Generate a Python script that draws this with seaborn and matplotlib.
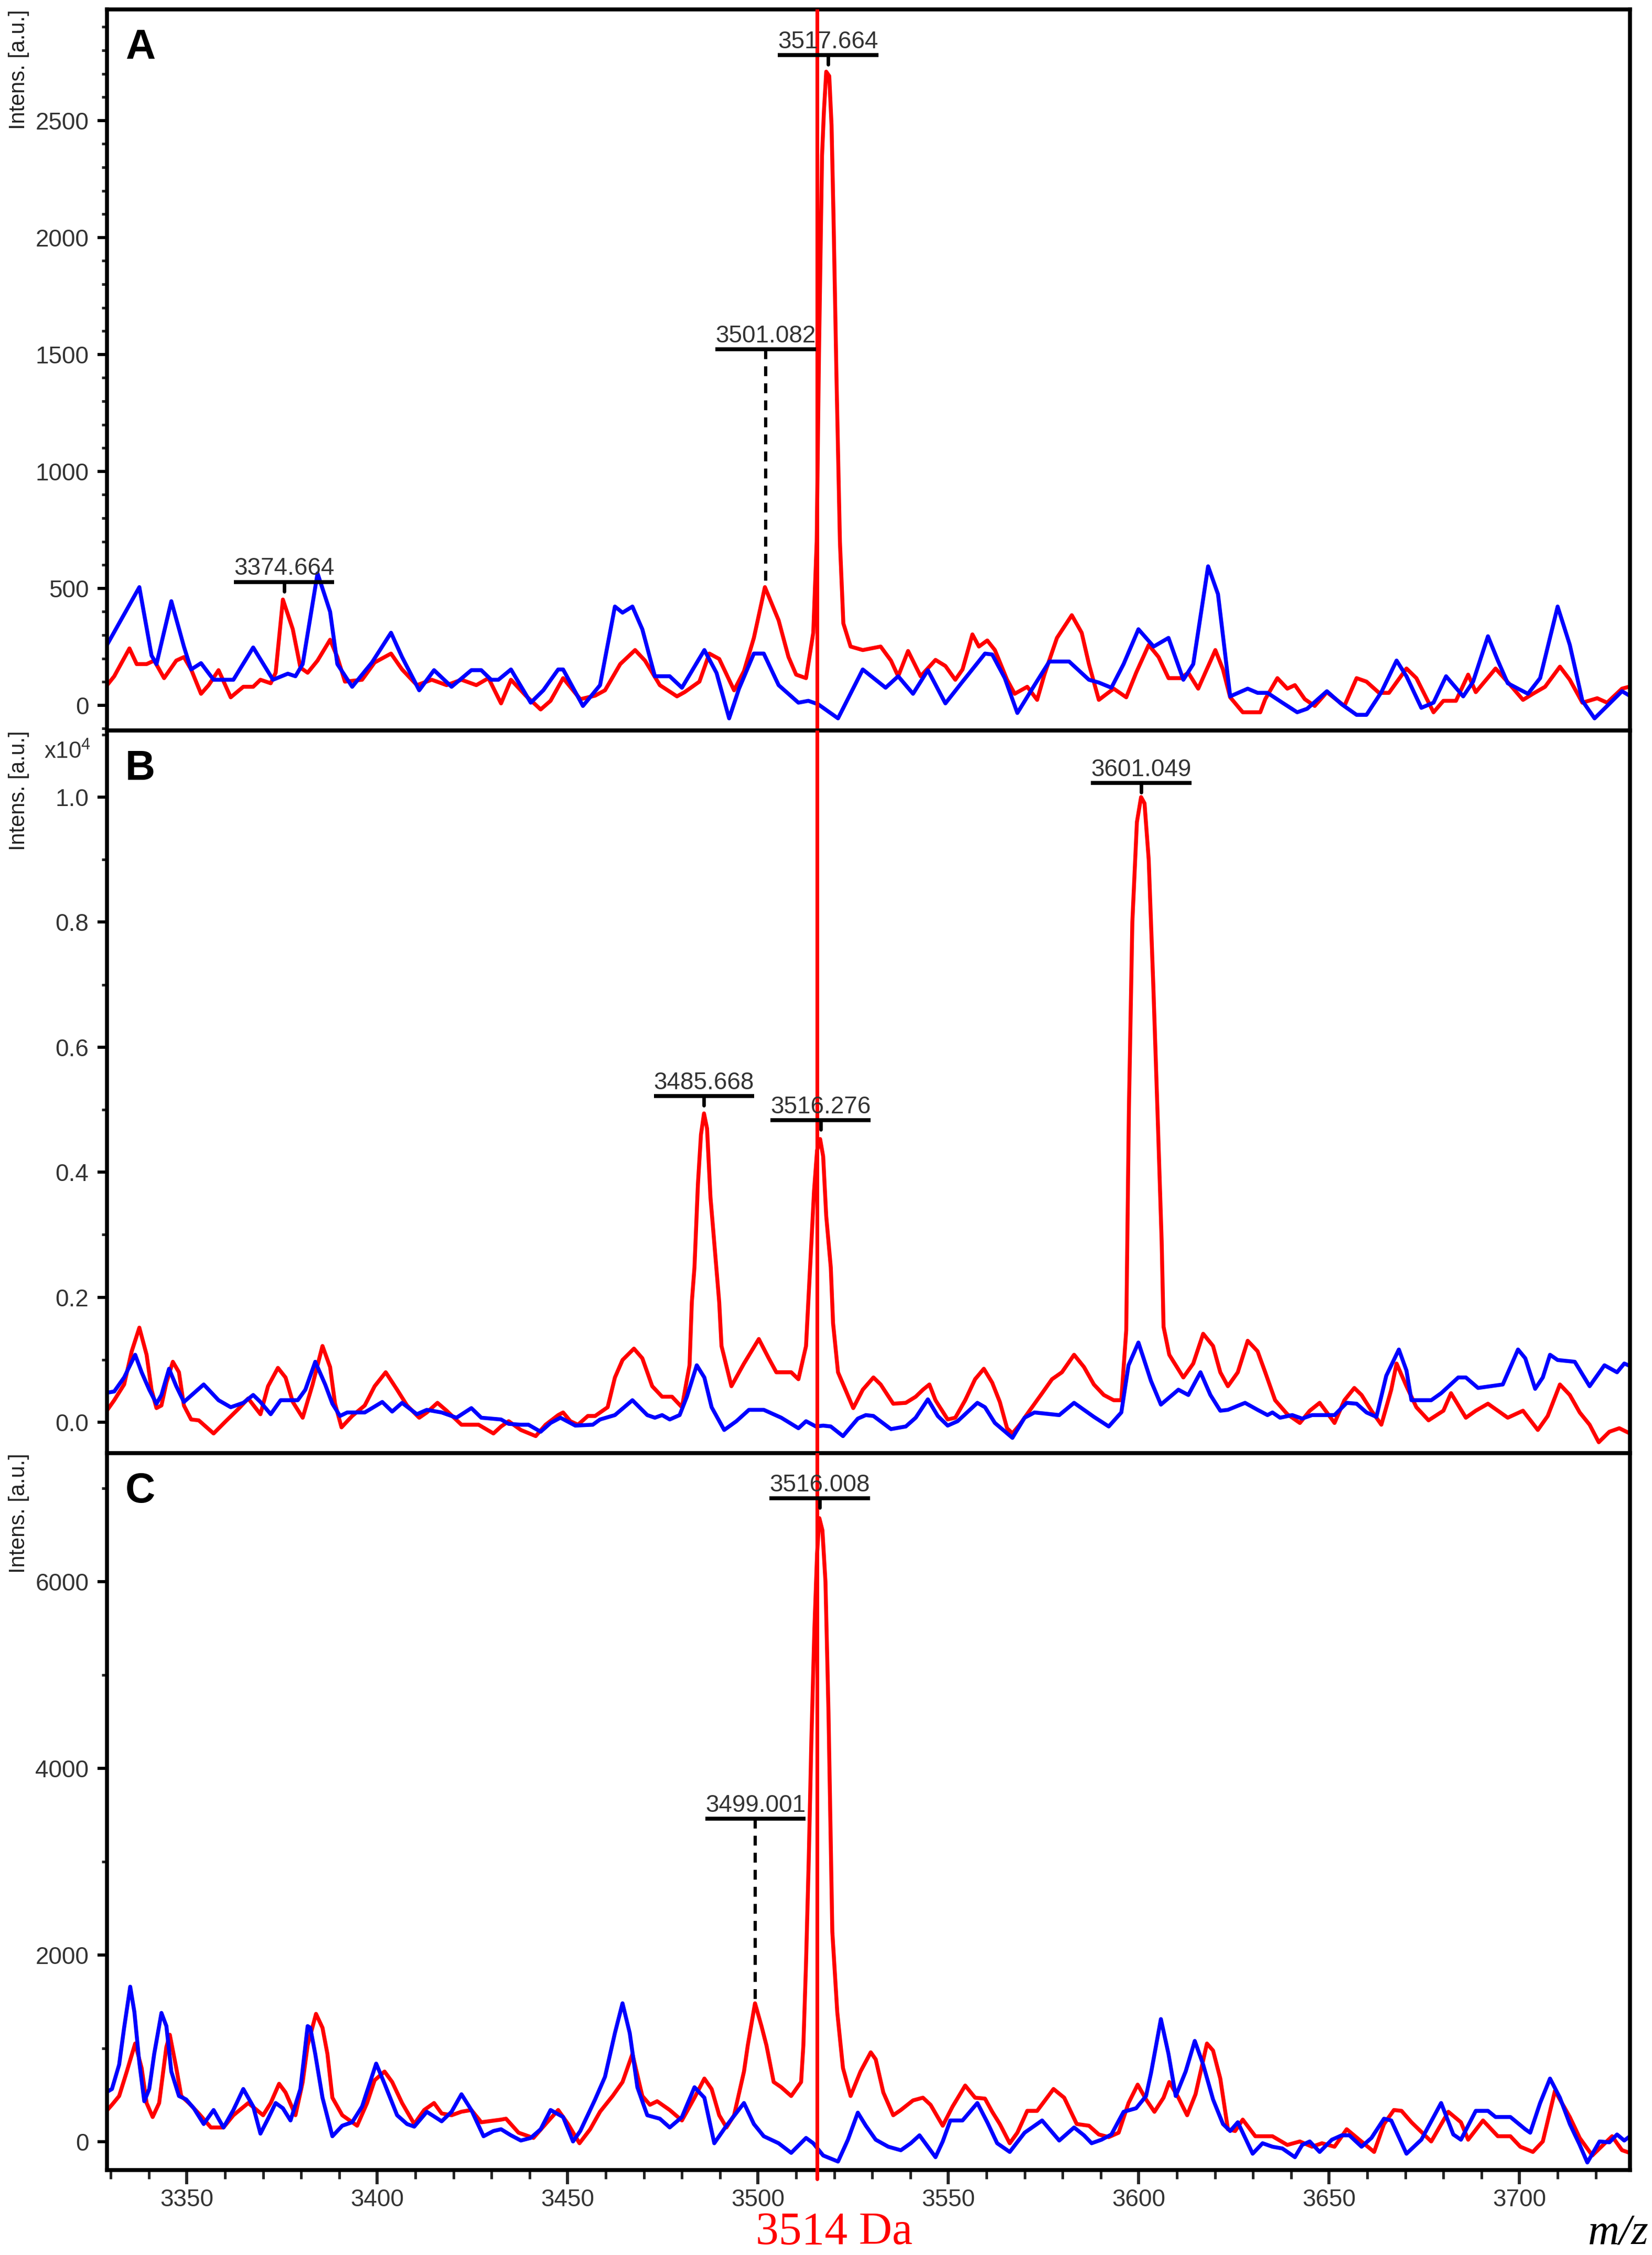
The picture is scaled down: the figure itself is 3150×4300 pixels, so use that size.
import matplotlib
matplotlib.use("Agg")
import matplotlib.pyplot as plt
from matplotlib.ticker import MultipleLocator, FuncFormatter
import seaborn as sns

# Style first, fonts after (set_style resets font.family)
sns.set_style("ticks")
plt.rcParams['font.family'] = ['Liberation Sans', 'DejaVu Sans']
plt.rcParams['mathtext.default'] = 'regular'

RED = '#ff0000'
BLUE = '#0000ff'
MARKER_MZ = 3515.5

# ---------------- Panel A ----------------
A_red_mz = [3328.3, 3330.9, 3334.9, 3336.8, 3339.4, 3341.4, 3344.0, 3347.2, 3349.2, 3351.1,
            3353.7, 3355.7, 3358.3, 3361.5, 3364.8, 3367.4, 3369.3, 3372.0, 3373.3, 3375.2,
            3377.8, 3379.8, 3381.7, 3384.3, 3387.6, 3389.5, 3391.5, 3396.0, 3399.3, 3403.6,
            3406.5, 3410.4, 3414.3, 3418.2, 3422.1, 3426.0, 3429.2, 3432.5, 3435.1, 3439.0,
            3442.9, 3445.5, 3448.8, 3453.3, 3457.2, 3459.8, 3463.8, 3467.7, 3470.3, 3474.2,
            3478.7, 3480.7, 3484.6, 3487.2, 3489.8, 3493.7, 3496.3, 3498.9, 3501.8, 3505.4,
            3508.0, 3510.0, 3512.6, 3514.5, 3515.4, 3516.0, 3516.8, 3517.3, 3517.9, 3518.7,
            3519.3, 3519.8, 3520.6, 3521.5, 3522.4, 3524.3, 3527.5, 3532.2, 3534.9, 3536.8,
            3539.4, 3542.7, 3546.6, 3549.2, 3551.8, 3553.7, 3556.3, 3558.0, 3560.2, 3562.2,
            3565.4, 3567.4, 3570.7, 3573.3, 3575.2, 3578.5, 3582.4, 3585.0, 3586.9, 3589.5,
            3593.4, 3596.7, 3599.3, 3602.6, 3605.2, 3607.8, 3611.0, 3613.0, 3615.6, 3620.1,
            3622.1, 3624.0, 3627.3, 3631.9, 3633.2, 3636.4, 3639.0, 3641.0, 3643.6, 3646.2,
            3649.4, 3654.0, 3657.2, 3659.8, 3663.1, 3665.7, 3670.3, 3672.9, 3677.4, 3680.0,
            3683.3, 3686.5, 3688.5, 3693.7, 3697.0, 3700.9, 3703.5, 3706.7, 3710.6, 3713.2,
            3716.5, 3720.4, 3723.0, 3726.9, 3729.0]
A_red_int = [71, 124, 243, 176, 176, 191, 116, 191, 206, 153,
             49, 86, 150, 34, 79, 79, 109, 94, 139, 452,
             325, 161, 139, 191, 280, 206, 101, 109, 183, 221,
             153, 86, 109, 86, 109, 86, 116, 8, 109, 41,
             -18, 19, 116, 26, 41, 64, 176, 236, 191, 86,
             38, 56, 101, 221, 198, 64, 146, 288, 505, 363,
             206, 131, 116, 310, 700, 1500, 2350, 2540, 2709, 2690,
             2480, 2100, 1400, 700, 350, 251, 236, 251, 191, 124,
             232, 124, 194, 168, 109, 153, 303, 251, 277, 236,
             109, 49, 79, 23, 131, 288, 385, 310, 176, 23,
             71, 34, 139, 258, 206, 116, 116, 139, 71, 236,
             153, 34, -30, -30, 26, 116, 71, 86, 26, -3,
             56, -3, 116, 101, 53, 53, 157, 116, -30, 19,
             19, 131, 56, 157, 97, 23, 49, 79, 165, 109,
             11, 30, 11, 71, 80]

A_blue_mz = [3329.0, 3337.5, 3340.7, 3342.0, 3345.9, 3349.2, 3351.1, 3353.7, 3357.0, 3362.2,
             3367.4, 3372.6, 3376.5, 3378.5, 3380.4, 3384.3, 3387.6, 3389.5, 3393.4, 3398.6,
             3403.6, 3406.5, 3411.0, 3414.9, 3419.5, 3424.7, 3427.3, 3429.9, 3431.8, 3435.1,
             3440.3, 3443.6, 3447.5, 3448.8, 3454.0, 3458.5, 3462.4, 3464.4, 3467.0, 3469.6,
             3472.9, 3476.8, 3480.0, 3485.9, 3489.1, 3492.4, 3495.0, 3498.9, 3501.5, 3505.4,
             3510.6, 3513.2, 3515.8, 3521.0, 3527.5, 3533.5, 3536.8, 3540.7, 3544.6, 3549.2,
             3553.7, 3559.6, 3561.5, 3564.8, 3568.1, 3572.6, 3576.5, 3581.7, 3586.9, 3589.5,
             3592.8, 3596.0, 3599.9, 3603.9, 3607.8, 3611.7, 3614.3, 3618.2, 3620.8, 3624.0,
             3628.6, 3631.2, 3633.8, 3637.7, 3641.6, 3644.2, 3649.4, 3653.3, 3657.2, 3659.8,
             3663.7, 3667.7, 3670.3, 3674.2, 3677.4, 3680.7, 3685.2, 3687.8, 3691.7, 3694.3,
             3696.9, 3702.2, 3705.4, 3710.0, 3713.2, 3716.5, 3719.7, 3723.0, 3726.9, 3729.0]
A_blue_int = [258, 505, 213, 176, 445, 251, 153, 180, 109, 109,
              247, 109, 135, 124, 176, 564, 400, 176, 79, 183,
              310, 206, 64, 150, 79, 150, 150, 109, 109, 153,
              11, 64, 153, 153, -3, 86, 422, 396, 422, 325,
              124, 124, 75, 236, 138, -56, 71, 221, 221, 86,
              11, 19, 4, -56, 153, 75, 124, 49, 150, 8,
              101, 221, 217, 116, -33, 86, 187, 187, 109, 97,
              75, 176, 325, 251, 288, 109, 176, 594, 475, 38,
              71, 53, 53, 11, -30, -15, 60, 4, -41, -41,
              56, 191, 124, -11, 11, 124, 38, 101, 295, 191,
              94, 49, 116, 422, 258, 19, -56, -3, 60, 40]

# ---------------- Panel B ----------------
B_red_mz = [3328.3, 3330.9, 3333.5, 3335.5, 3337.5, 3339.4, 3340.7, 3342.0, 3343.3, 3344.6,
            3346.3, 3347.9, 3349.2, 3351.1, 3353.1, 3357.0, 3360.2, 3363.5, 3366.1, 3369.3,
            3371.3, 3373.9, 3375.9, 3377.8, 3380.4, 3383.0, 3385.6, 3387.6, 3388.9, 3390.6,
            3393.4, 3396.7, 3399.3, 3402.2, 3405.2, 3407.8, 3411.0, 3413.0, 3415.8, 3418.2,
            3422.1, 3426.6, 3430.5, 3432.5, 3434.5, 3437.7, 3441.6, 3444.2, 3447.5, 3448.8,
            3450.7, 3452.7, 3455.3, 3457.2, 3460.5, 3462.4, 3464.4, 3467.4, 3469.6, 3472.2,
            3474.8, 3477.4, 3480.0, 3482.0, 3482.6, 3483.3, 3484.2, 3485.0, 3485.8, 3486.6,
            3487.5, 3488.5, 3489.8, 3490.4, 3493.0, 3496.3, 3500.2, 3502.8, 3504.8, 3508.7,
            3510.6, 3512.6, 3513.9, 3514.7, 3515.5, 3516.3, 3517.1, 3517.9, 3519.1, 3519.7,
            3521.0, 3525.0, 3527.5, 3530.3, 3532.2, 3535.5, 3538.8, 3541.4, 3543.3, 3545.0,
            3546.6, 3549.8, 3551.8, 3554.4, 3557.0, 3559.3, 3561.5, 3563.5, 3565.4, 3566.8,
            3568.7, 3571.3, 3574.6, 3577.2, 3579.8, 3583.0, 3585.6, 3588.2, 3590.8, 3593.4,
            3595.4, 3596.7, 3597.4, 3598.3, 3599.5, 3600.6, 3601.5, 3602.6, 3603.8, 3605.0,
            3606.0, 3606.2, 3606.5, 3608.0, 3611.7, 3614.3, 3616.9, 3619.5, 3621.4, 3623.4,
            3626.0, 3628.6, 3631.2, 3633.2, 3635.8, 3639.0, 3642.3, 3644.9, 3647.5, 3649.4,
            3651.4, 3654.0, 3656.6, 3658.5, 3661.1, 3663.7, 3666.3, 3667.7, 3670.3, 3672.9,
            3676.1, 3680.0, 3682.0, 3685.9, 3688.5, 3691.7, 3694.3, 3696.9, 3700.9, 3704.8,
            3707.4, 3710.6, 3713.2, 3715.8, 3718.4, 3720.8, 3723.6, 3726.2, 3729.0]
B_red_int = [128, 352, 604, 1135, 1513, 1079, 520, 226, 268, 632,
             967, 799, 268, 44, 30, -180, 16, 212, 380, 128,
             576, 869, 715, 324, 72, 604, 1219, 883, 296, -82,
             100, 268, 576, 799, 520, 268, 72, 156, 310, 184,
             -40, -40, -180, -68, 16, -124, -222, -40, 114, 156,
             16, -40, 100, 100, 240, 715, 995, 1177, 1023, 576,
             408, 408, 240, 911, 1918, 2478, 3800, 4600, 4940, 4700,
             3600, 2869, 1918, 1219, 576, 939, 1331, 1023, 799, 799,
             688, 1219, 2757, 3700, 4350, 4530, 4250, 3300, 2478, 1583,
             799, 226, 520, 716, 604, 296, 310, 408, 520, 604,
             352, 44, 72, 352, 688, 855, 632, 324, -96, -180,
             -40, 184, 464, 688, 799, 1079, 883, 604, 436, 352,
             352, 1471, 5000, 8000, 9600, 10000, 9900, 9000, 7000, 4800,
             2900, 2338, 1527, 1079, 716, 939, 1415, 1219, 799, 576,
             799, 1303, 1135, 799, 352, 128, -12, 184, 310, 156,
             -12, 352, 548, 436, 184, -40, 520, 939, 576, 240,
             30, 184, 464, 72, 184, 296, 184, 72, 184, -124,
             100, 604, 436, 156, -40, -320, -152, -96, -180]

B_blue_mz = [3328.3, 3330.9, 3333.5, 3336.4, 3338.1, 3340.1, 3342.0, 3343.3, 3345.3, 3347.2,
             3349.2, 3354.4, 3358.3, 3361.5, 3364.8, 3367.4, 3369.3, 3372.0, 3374.6, 3379.1,
             3381.1, 3383.7, 3386.3, 3388.2, 3390.2, 3392.1, 3396.7, 3401.3, 3403.9, 3406.5,
             3410.4, 3413.0, 3416.9, 3420.8, 3424.7, 3427.3, 3432.5, 3434.5, 3437.7, 3439.7,
             3442.9, 3445.5, 3448.1, 3452.0, 3456.6, 3458.5, 3462.4, 3467.0, 3470.9, 3472.9,
             3474.8, 3476.8, 3479.4, 3481.3, 3483.9, 3485.9, 3487.8, 3491.1, 3494.3, 3497.6,
             3501.5, 3506.1, 3510.6, 3512.6, 3515.2, 3517.1, 3519.1, 3522.3, 3526.2, 3528.3,
             3530.3, 3534.9, 3538.8, 3541.4, 3544.6, 3547.2, 3549.8, 3552.4, 3557.6, 3559.6,
             3562.2, 3566.8, 3570.0, 3572.6, 3579.1, 3583.0, 3588.2, 3592.1, 3595.4, 3597.3,
             3599.9, 3603.2, 3605.8, 3610.4, 3613.0, 3616.2, 3618.8, 3621.4, 3623.4, 3627.9,
             3631.2, 3633.8, 3635.1, 3637.1, 3640.3, 3642.9, 3645.5, 3651.4, 3654.6, 3657.2,
             3659.8, 3662.4, 3665.0, 3668.3, 3670.3, 3671.6, 3676.8, 3679.4, 3683.9, 3685.9,
             3689.1, 3695.6, 3699.6, 3701.5, 3704.1, 3706.1, 3708.0, 3710.0, 3714.5, 3718.4,
             3722.3, 3725.6, 3727.5, 3729.0]
B_blue_int = [464, 492, 716, 1079, 799, 520, 296, 436, 855, 576,
              324, 604, 352, 240, 310, 436, 324, 128, 352, 352,
              520, 967, 604, 296, 100, 156, 156, 324, 170, 310,
              128, 198, 156, 72, 226, 72, 44, -26, -40, -40,
              -152, -12, 72, -54, -40, 44, 114, 352, 114, 72,
              114, 44, 114, 408, 911, 715, 240, -124, 16, 198,
              198, 72, -96, 16, -68, -54, -68, -222, 58, 114,
              100, -110, -68, 72, 366, 100, -54, 16, 310, 240,
              -12, -250, 72, 156, 114, 310, 86, -68, 156, 911,
              1275, 660, 282, 520, 436, 799, 436, 184, 198, 310,
              198, 114, 156, 72, 114, 58, 114, 114, 310, 296,
              156, 86, 744, 1163, 827, 352, 352, 464, 716, 716,
              548, 604, 1163, 1023, 534, 716, 1079, 995, 967, 576,
              911, 799, 939, 900]

# ---------------- Panel C ----------------
C_red_mz = [3328.3, 3330.3, 3332.2, 3334.2, 3336.4, 3338.1, 3339.4, 3341.0, 3342.7, 3344.6,
            3345.5, 3347.2, 3348.5, 3350.5, 3353.1, 3356.3, 3359.6, 3362.2, 3366.1, 3370.0,
            3372.0, 3374.2, 3375.9, 3378.5, 3380.4, 3381.7, 3383.9, 3385.6, 3386.9, 3388.2,
            3390.8, 3394.7, 3397.3, 3399.3, 3401.9, 3403.9, 3406.5, 3409.7, 3412.3, 3414.9,
            3416.9, 3419.5, 3422.1, 3424.7, 3427.3, 3432.5, 3433.8, 3437.1, 3441.0, 3444.2,
            3447.5, 3450.1, 3453.1, 3455.9, 3458.5, 3461.8, 3464.4, 3467.0, 3469.6, 3471.6,
            3473.5, 3476.8, 3480.0, 3483.3, 3485.9, 3487.8, 3489.8, 3491.7, 3493.7, 3496.3,
            3497.3, 3499.2, 3500.9, 3502.2, 3504.1, 3506.1, 3508.7, 3511.3, 3511.9, 3512.6,
            3513.3, 3514.0, 3514.8, 3515.5, 3516.1, 3516.9, 3517.7, 3518.5, 3519.1, 3519.5,
            3520.8, 3522.3, 3524.3, 3526.9, 3529.6, 3530.9, 3532.9, 3535.5, 3537.5, 3540.7,
            3543.3, 3545.3, 3548.5, 3551.1, 3554.4, 3557.0, 3559.6, 3561.5, 3563.5, 3566.1,
            3568.1, 3570.7, 3573.3, 3577.6, 3580.4, 3583.7, 3586.9, 3589.5, 3592.1, 3594.7,
            3597.3, 3599.7, 3601.9, 3604.1, 3606.5, 3608.0, 3610.4, 3612.7, 3614.9, 3617.9,
            3619.5, 3621.4, 3623.4, 3625.3, 3627.3, 3630.6, 3635.1, 3639.0, 3642.3, 3645.5,
            3648.1, 3651.4, 3654.6, 3657.9, 3661.8, 3664.4, 3667.0, 3669.0, 3671.6, 3676.8,
            3681.3, 3684.6, 3686.5, 3690.4, 3694.3, 3697.6, 3700.2, 3703.5, 3706.1, 3709.3,
            3713.2, 3715.8, 3719.1, 3721.0, 3724.3, 3726.9, 3729.0]
C_red_int = [303, 396, 490, 752, 1052, 790, 415, 265, 415, 1015,
             1146, 790, 490, 415, 303, 153, 153, 284, 415, 284,
             415, 621, 528, 284, 640, 1033, 1370, 1221, 940, 472,
             284, 172, 415, 659, 752, 640, 415, 190, 340, 415,
             303, 284, 322, 340, 209, 237, 247, 97, 41, 190,
             340, 190, -16, 134, 322, 490, 640, 940, 490, 396,
             434, 340, 228, 472, 677, 565, 284, 153, 284, 752,
             1033, 1483, 1239, 1033, 640, 584, 490, 640, 1033, 1914,
             3000, 4300, 5500, 6300, 6680, 6550, 6000, 4600, 3200, 2251,
             1389, 790, 490, 752, 958, 883, 528, 284, 340, 443,
             472, 396, 172, 378, 602, 472, 462, 321, 190, -16,
             97, 331, 331, 565, 472, 190, 172, 78, 50, 97,
             415, 612, 453, 321, 472, 640, 472, 284, 509, 1052,
             977, 677, 134, 115, 237, 59, 59, -34, 3, -53,
             -16, -53, 134, 22, -109, 190, 340, 331, 209, 3,
             321, 209, 22, 228, 59, 59, -53, -109, 3, 546,
             265, 41, -147, -72, 59, -90, -120]

C_blue_mz = [3328.3, 3330.3, 3332.2, 3333.5, 3335.1, 3336.2, 3337.5, 3338.8, 3340.1, 3341.4,
             3343.3, 3344.6, 3345.9, 3347.9, 3349.8, 3351.8, 3354.4, 3357.0, 3359.6, 3362.2,
             3364.8, 3367.4, 3369.3, 3371.3, 3373.3, 3375.2, 3377.2, 3379.8, 3381.7, 3382.4,
             3383.7, 3385.6, 3388.2, 3390.8, 3393.4, 3396.0, 3399.7, 3401.9, 3405.2, 3407.8,
             3409.7, 3413.0, 3416.9, 3419.5, 3422.1, 3424.7, 3427.9, 3430.5, 3432.5, 3435.1,
             3437.7, 3440.3, 3442.9, 3445.5, 3448.8, 3451.4, 3453.3, 3457.2, 3459.8, 3462.4,
             3464.4, 3466.3, 3468.3, 3470.9, 3474.2, 3476.8, 3480.0, 3483.3, 3485.9, 3488.5,
             3491.7, 3496.3, 3498.9, 3501.5, 3505.4, 3508.7, 3512.6, 3514.5, 3517.1, 3521.0,
             3523.6, 3526.2, 3528.3, 3530.9, 3534.2, 3537.5, 3540.1, 3542.4, 3544.6, 3546.6,
             3548.5, 3550.5, 3553.7, 3557.6, 3560.2, 3562.8, 3566.1, 3570.0, 3574.6, 3579.1,
             3583.0, 3585.6, 3587.6, 3590.2, 3592.8, 3596.0, 3599.3, 3601.9, 3603.2, 3605.8,
             3607.8, 3609.7, 3612.3, 3614.7, 3616.9, 3619.5, 3622.1, 3624.0, 3626.0, 3629.9,
             3632.5, 3635.1, 3637.7, 3641.0, 3642.9, 3644.9, 3647.5, 3650.7, 3653.3, 3655.3,
             3658.5, 3661.1, 3664.4, 3666.3, 3670.3, 3674.2, 3679.4, 3682.6, 3684.6, 3688.5,
             3691.7, 3693.7, 3697.6, 3701.5, 3702.8, 3705.4, 3708.0, 3710.6, 3713.2, 3715.8,
             3717.8, 3721.0, 3723.6, 3725.6, 3727.5, 3729.0]
C_blue_int = [518, 565, 827, 1221, 1661, 1389, 846, 434, 565, 940,
              1380, 1239, 752, 490, 453, 359, 190, 340, 153, 340,
              565, 378, 87, 247, 415, 359, 228, 565, 1239, 1221,
              940, 472, 59, 172, 209, 378, 837, 622, 284, 190,
              162, 321, 219, 321, 509, 340, 59, 115, 134, 69,
              13, 41, 134, 340, 265, 3, 115, 453, 696, 1164,
              1483, 1164, 584, 284, 247, 153, 265, 584, 472, -16,
              172, 415, 190, 59, -16, -119, 41, -16, -147, -212,
              22, 312, 172, 22, -53, -91, -16, 69, -53, -165,
              3, 228, 228, 415, 209, -16, -109, 97, 228, 13,
              153, 69, -16, 22, 78, 321, 359, 490, 734, 1314,
              940, 490, 752, 1080, 827, 453, 190, 115, 209, -128,
              -16, -53, -72, -165, -34, 3, -109, 22, 69, 69,
              -53, 41, 247, 228, -128, 22, 415, 78, 22, 331,
              331, 265, 265, 134, 97, 415, 677, 472, 190, -34,
              -222, 3, -6, 78, 13, 60]

# Peak labels: text, m/z position, bar height, peak top, dashed?
A_peaks = [("3374.664", 3375.5, 527, 452, False),
           ("3501.082", 3502.0, 1522, 505, True),
           ("3517.664", 3518.4, 2780, 2709, False)]
B_peaks = [("3485.668", 3485.8, 5218, 4940, False),
           ("3516.276", 3516.4, 4832, 4530, False),
           ("3601.049", 3600.6, 10226, 10000, False)]
C_peaks = [("3499.001", 3499.3, 3461, 1483, True),
           ("3516.008", 3516.2, 6893, 6680, False)]

XLIM = (3329.0, 3729.0)
LEFT, WIDTH = 204 / 3150, (3108 - 204) / 3150


def fig_box(top_px, bottom_px):
    return [LEFT, 1 - bottom_px / 4300, WIDTH, (bottom_px - top_px) / 4300]


def draw_panel(ax, red_mz, red_int, blue_mz, blue_int, ylim, peaks, letter):
    sns.lineplot(x=red_mz, y=red_int, ax=ax, color=RED, linewidth=1.8,
                 estimator=None, sort=False)
    sns.lineplot(x=blue_mz, y=blue_int, ax=ax, color=BLUE, linewidth=1.8,
                 estimator=None, sort=False)
    ax.set_xlim(*XLIM)
    ax.set_ylim(*ylim)
    ax.set_xlabel('')
    ax.set_ylabel('')
    for sp in ax.spines.values():
        sp.set_linewidth(1.8)
        sp.set_color('black')
    ax.tick_params(axis='y', which='major', direction='out', length=4.3, width=1.4,
                   labelsize=11, pad=4, colors='black', labelcolor='#333333')
    ax.tick_params(axis='y', which='minor', direction='out', length=2.4, width=1.2)
    ax.axvline(MARKER_MZ, color=RED, lw=1.7, zorder=5)

    # peak labels with bar and tick
    span = ylim[1] - ylim[0]
    half = 13.2
    for txt, x, ybar, ytop, dashed in peaks:
        ax.plot([x - half, x + half], [ybar, ybar], color='black', lw=1.8,
                solid_capstyle='butt', zorder=6)
        if dashed:
            ax.plot([x, x], [ybar, ytop], color='black', lw=1.5,
                    ls=(0, (3, 2.2)), zorder=6)
        else:
            ax.plot([x, x], [ybar, ybar - 0.013 * span], color='black', lw=1.6, zorder=6)
        ax.annotate(txt, (x, ybar), xytext=(0, 0.8), textcoords='offset points',
                    ha='center', va='bottom', fontsize=11, color='#333333', zorder=7)

    ax.text(0.012, 0.974, letter, transform=ax.transAxes, ha='left', va='top',
            fontsize=19, fontweight='bold', color='black')


fig = plt.figure(figsize=(10.5, 4300 / 300), dpi=300)
fig.patch.set_facecolor('white')

axA = fig.add_axes(fig_box(18, 1393))
axB = fig.add_axes(fig_box(1393, 2771))
axC = fig.add_axes(fig_box(2771, 4138))

draw_panel(axA, A_red_mz, A_red_int, A_blue_mz, A_blue_int, (-108, 2975), A_peaks, 'A')
draw_panel(axB, B_red_mz, B_red_int, B_blue_mz, B_blue_int, (-495, 11065), B_peaks, 'B')
draw_panel(axC, C_red_mz, C_red_int, C_blue_mz, C_blue_int, (-303, 7376), C_peaks, 'C')

axA.yaxis.set_major_locator(MultipleLocator(500))
axA.yaxis.set_minor_locator(MultipleLocator(100))
axB.yaxis.set_major_locator(MultipleLocator(2000))
axB.yaxis.set_minor_locator(MultipleLocator(1000))
axB.yaxis.set_major_formatter(FuncFormatter(lambda v, p: '%.1f' % (v / 1e4)))
axC.yaxis.set_major_locator(MultipleLocator(2000))
axC.yaxis.set_minor_locator(MultipleLocator(1000))

for ax in (axA, axB):
    ax.tick_params(axis='x', which='both', bottom=False, labelbottom=False)

axC.xaxis.set_major_locator(MultipleLocator(50))
axC.xaxis.set_minor_locator(MultipleLocator(10))
axC.tick_params(axis='x', which='major', direction='out', length=6.5, width=1.4,
                labelsize=11, pad=2, labelcolor='#333333')
axC.tick_params(axis='x', which='minor', direction='out', length=4, width=1.2)

# marker line runs a bit below the bottom axis
axC.axvline(MARKER_MZ, ymin=-0.0125, ymax=0, color=RED, lw=1.7, clip_on=False, zorder=5)

# y labels and offset text
for top_px in (18, 1393, 2771):
    fig.text(36 / 3150, 1 - top_px / 4300, 'Intens. [a.u.]', rotation=90,
             ha='center', va='top', fontsize=10, color='#222222')
fig.text(173 / 3150, 1 - 1447 / 4300, 'x10$^{4}$', ha='right', va='baseline',
         fontsize=10.5, color='#333333')

fig.text(0.505, 0.005, '3514 Da', ha='center', va='baseline', fontsize=21,
         color=RED, family=['Liberation Serif', 'DejaVu Serif'])
fig.text(0.998, 0.005, 'm/z', ha='right', va='baseline', fontsize=20, style='italic',
         color='black', family=['Liberation Serif', 'DejaVu Serif'])

fig.savefig('out.png', dpi=300, facecolor='white')
